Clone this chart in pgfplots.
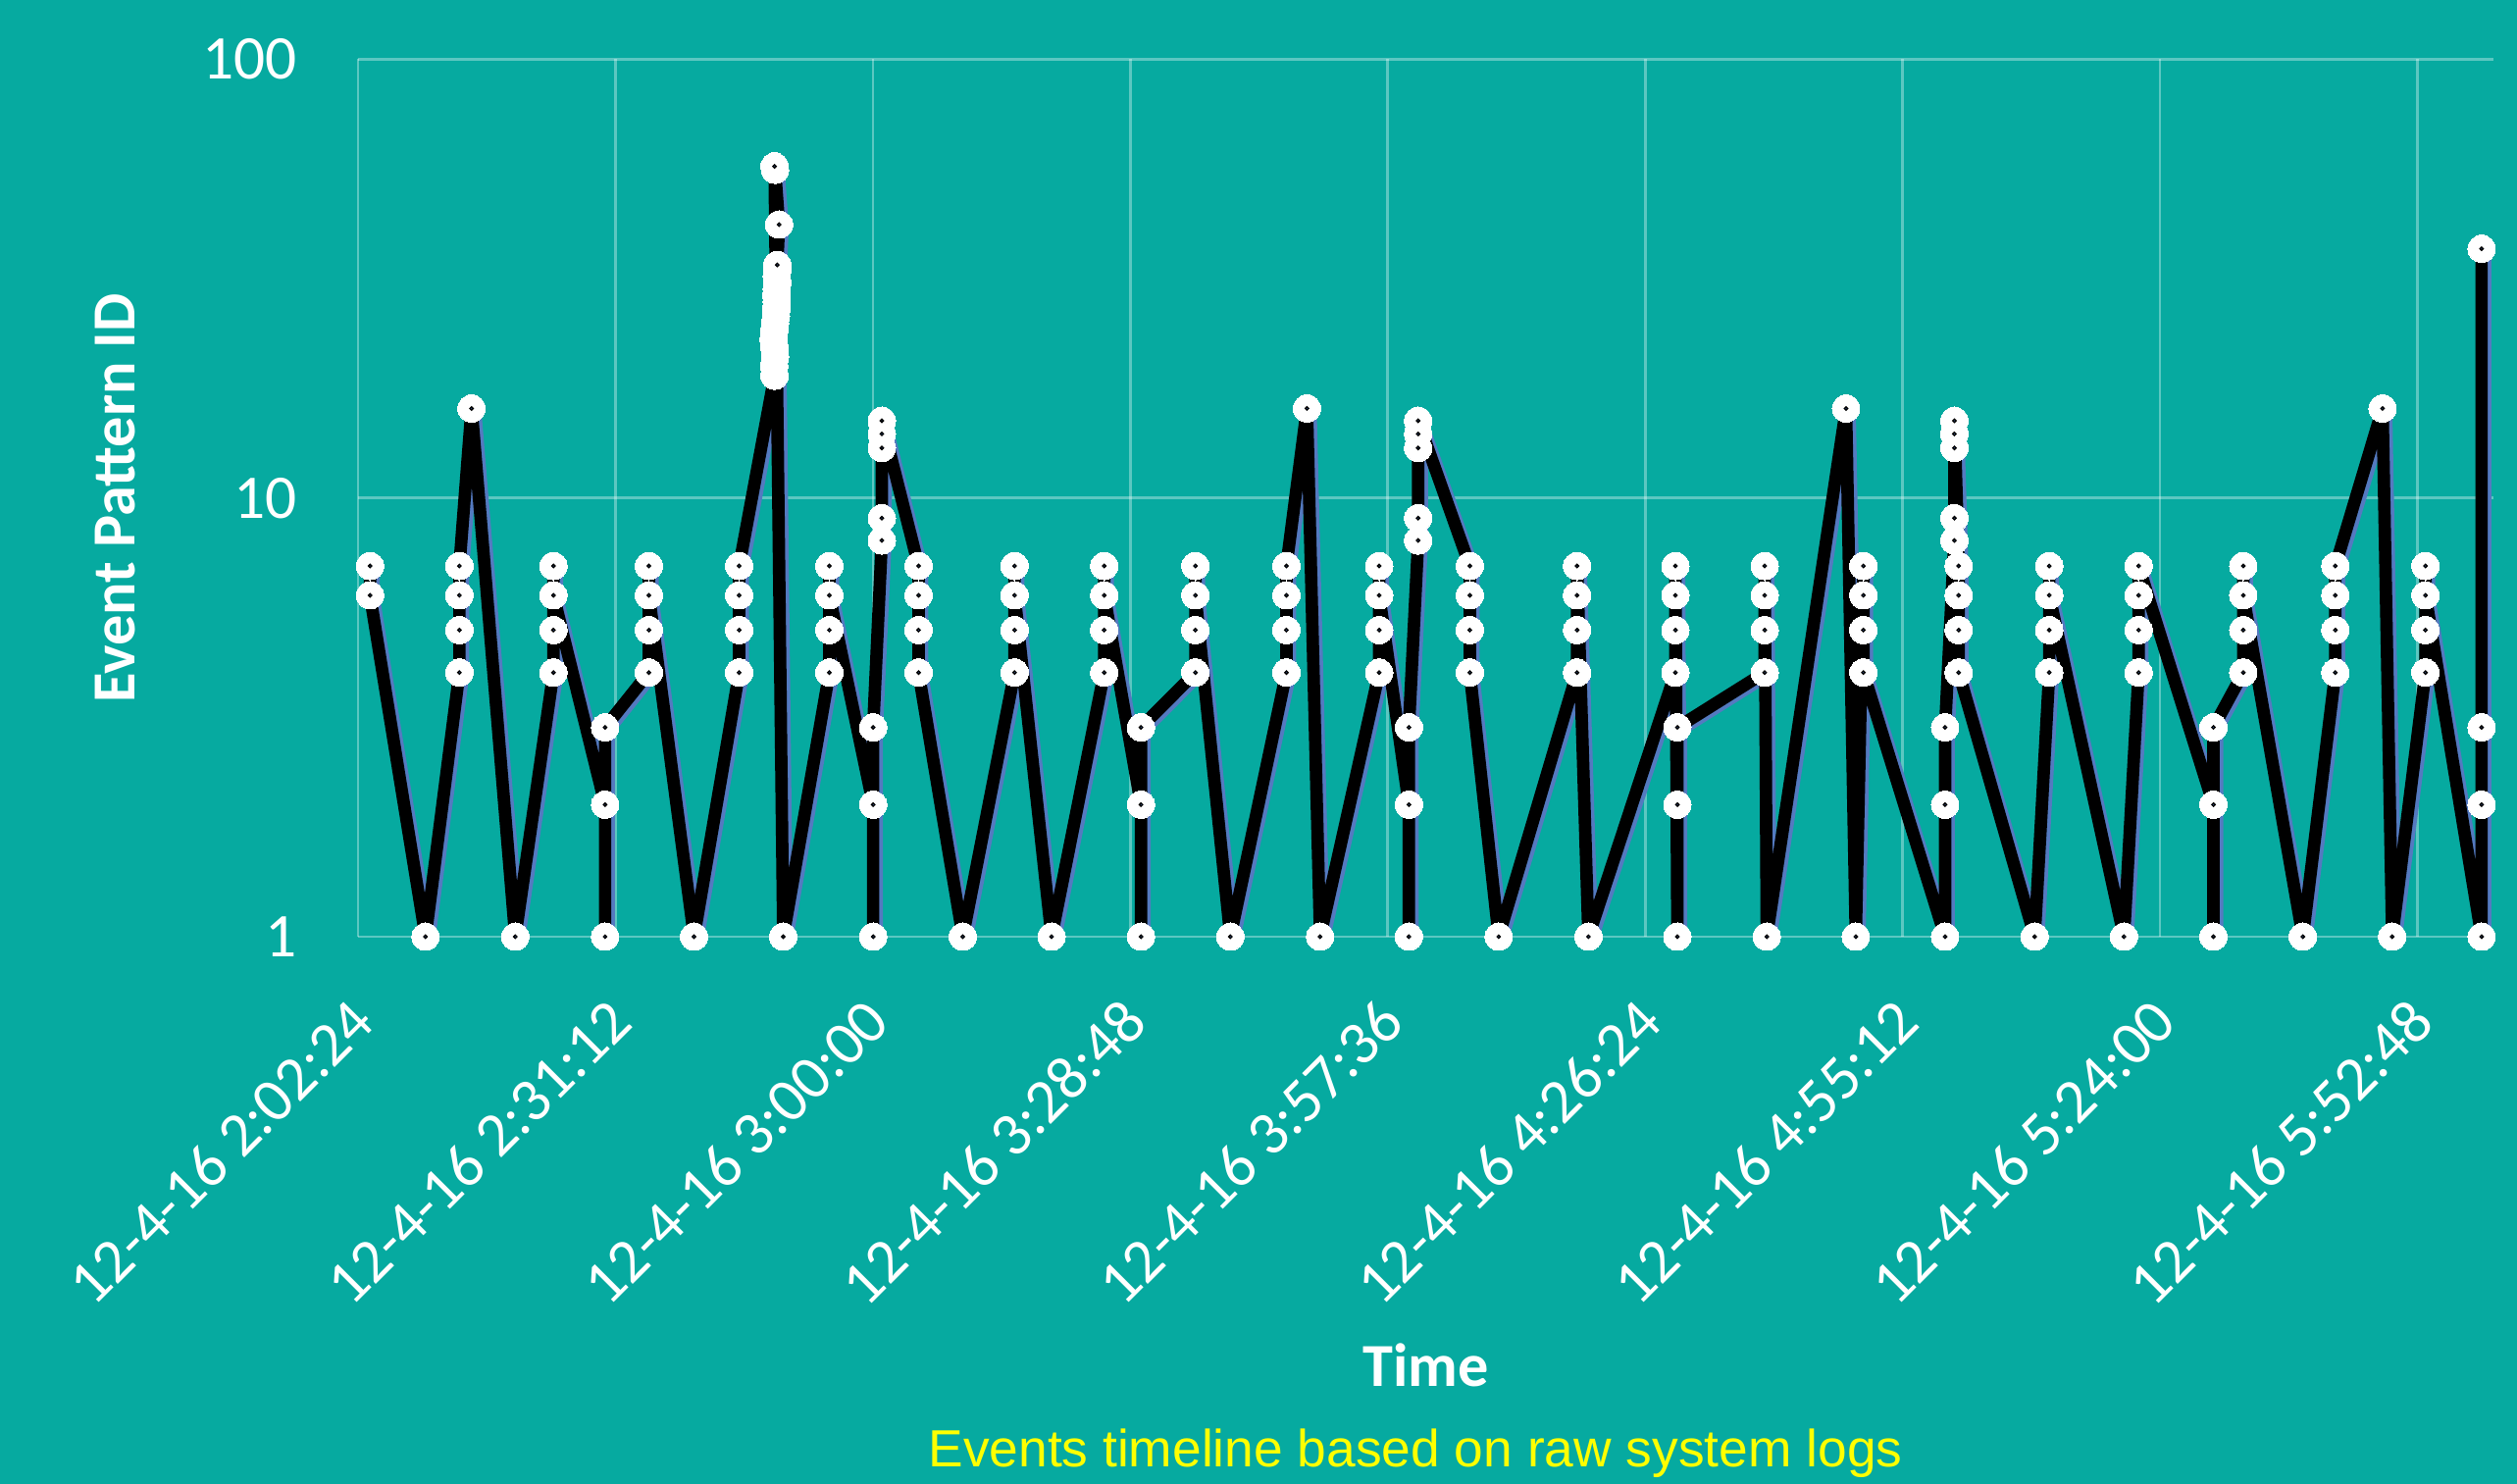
\documentclass[border=0pt]{standalone}
\usepackage{fontspec}
\setmainfont{Carlito}
\newfontfamily\arialf{Liberation Sans}
\usepackage{pgfplots}
\usepackage{pgfplotstable}
\pgfplotsset{compat=1.18}
\definecolor{bgteal}{RGB}{6,170,160}
\definecolor{shblue}{RGB}{84,122,192}
\definecolor{subyellow}{RGB}{255,255,0}
\definecolor{dotblue}{RGB}{68,114,196}

\pgfplotstableread{
x y
123.74 7
123.74 6
129.95 1
133.74 4
133.74 5
133.74 6
133.74 7
135.10 16
139.99 1
144.26 4
144.26 5
144.26 7
144.26 6
150.04 2
150.04 1
150.04 3
154.94 4
154.94 5
154.94 7
154.94 6
159.99 1
165.04 4
165.04 5
165.04 6
165.04 7
169.00 19
168.95 20
169.05 21
169.00 22
168.90 23
168.95 24
169.05 25
169.15 26
169.20 27
169.25 28
169.20 29
169.25 30
169.30 31
169.25 32
169.30 33
169.30 34
169.50 42
169.05 56
169.00 57
169.97 1
175.13 4
175.13 5
175.13 7
175.13 6
180.03 2
180.03 1
180.03 3
181.00 8
181.00 9
181.00 13
181.00 14
181.00 15
185.11 7
185.11 6
185.11 5
185.11 4
190.06 1
195.85 4
195.85 5
195.85 7
195.85 6
199.99 1
205.88 4
205.88 5
205.88 7
205.88 6
209.99 2
209.99 1
209.99 3
216.08 4
216.08 5
216.08 7
216.08 6
219.99 1
226.26 4
226.26 5
226.26 6
226.26 7
228.56 16
230.03 1
236.64 4
236.64 5
236.64 7
236.64 6
239.96 2
239.96 1
239.96 3
241.00 8
241.00 9
241.00 13
241.00 14
241.00 15
246.78 7
246.78 6
246.78 5
246.78 4
250.01 1
258.78 4
258.78 5
258.78 6
258.78 7
260.05 1
269.78 4
269.78 5
269.78 6
269.78 7
270.00 1
270.00 2
270.00 3
279.77 4
279.77 5
279.77 6
279.77 7
280.00 1
288.87 16
289.96 1
290.81 7
290.81 6
290.81 5
290.81 4
299.95 1
299.95 2
299.95 3
300.99 8
300.99 9
300.99 13
300.99 14
300.99 15
301.47 7
301.47 6
301.47 5
301.47 4
309.97 1
311.60 4
311.60 5
311.60 7
311.60 6
319.96 1
321.60 4
321.60 5
321.60 6
321.60 7
329.97 2
329.97 1
329.97 3
333.31 4
333.31 5
333.31 7
333.31 6
339.97 1
343.61 4
343.61 5
343.61 6
343.61 7
348.89 16
349.97 1
353.69 4
353.69 5
353.69 7
353.69 6
359.97 1
359.97 2
359.97 3
359.97 37
}\events

\begin{document}
\begin{tikzpicture}
\fill[bgteal] (-109.5pt,-167.4pt) rectangle (660.3pt,286.5pt);
\begin{axis}[
  at={(0,0)}, anchor=south west,
  scale only axis, width=653.1pt, height=268.35pt,
  xmin=122.4, xmax=361.3,
  ymode=log, ymin=1, ymax=100,
  ytick={1,10,100}, yticklabels={1,10,100},
  xtick={122.4,151.2,180,208.8,237.6,266.4,295.2,324,352.8},
  xticklabels={12-4-16 2:02:24,12-4-16 2:31:12,12-4-16 3:00:00,12-4-16 3:28:48,12-4-16 3:57:36,12-4-16 4:26:24,12-4-16 4:55:12,12-4-16 5:24:00,12-4-16 5:52:48},
  grid=major,
  grid style={white, opacity=0.35, line width=0.8pt},
  axis line style={draw=none},
  major tick length=0pt,
  tick style={draw=none},
  clip=false,
  /pgf/number format/assume math mode=true,
  yticklabel style={font=\fontsize{19}{22}\selectfont, text=white, anchor=east, inner sep=0pt, xshift=-18.6pt},
  xticklabel style={font=\fontsize{19}{22}\selectfont, text=white, inner sep=0pt, xshift=1.5pt, yshift=-22.5pt, rotate=45, anchor=east},
]
\addplot[shblue, line width=3.8pt, line join=round, xshift=1.1pt, yshift=-0.7pt, forget plot] table[x=x,y=y]{\events};
\addplot[black, line width=3.8pt, line join=round, mark=*, mark size=4.2pt, mark options={fill=white, draw=white, line width=0pt}] table[x=x,y=y]{\events};
\addplot[only marks, mark=*, mark size=0.5pt, mark options={fill=dotblue, draw=none}, skip coords between index={25}{40}, skip coords between index={42}{43}] table[x=x,y=y]{\events};

\node[rotate=90, anchor=base, font=\bfseries\fontsize{18.7}{22}\selectfont, text=white] at ([xshift=-68.1pt]axis description cs:0,0.5) {Event Pattern ID};
\node[anchor=base, font=\bfseries\fontsize{18.7}{22}\selectfont, text=white] at ([yshift=-137.5pt]axis description cs:0.5,0) {Time};
\node[anchor=base, font=\arialf\fontsize{16}{19}\selectfont, text=subyellow] at ([xshift=-3.15pt, yshift=-162pt]axis description cs:0.5,0) {Events timeline based on raw system logs};
\end{axis}
\pgfresetboundingbox
\path[use as bounding box] (-109.5pt,-167.4pt) rectangle (660.3pt,286.5pt);
\end{tikzpicture}
\end{document}
